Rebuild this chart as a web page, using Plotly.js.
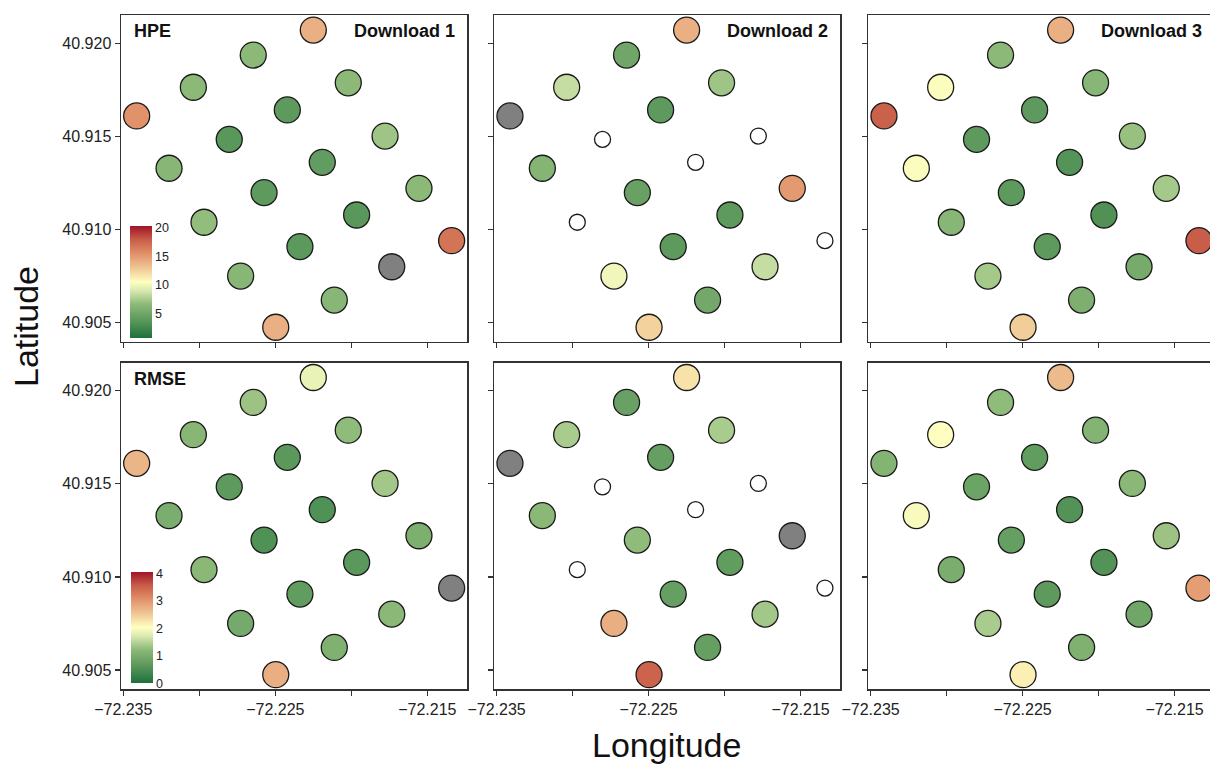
<!DOCTYPE html>
<html><head><meta charset="utf-8">
<script src="https://cdn.plot.ly/plotly-3.0.1.min.js"></script>
<style>html,body{margin:0;padding:0;overflow:hidden;background:#fff}</style>
</head><body><div id="chart" style="width:1216px;height:765px"></div>
<script>
// Station coordinates (same stations in every panel)
const stationLon = [-72.2225, -72.22645, -72.23039, -72.22020, -72.23412, -72.22421, -72.22803, -72.21778, -72.23199, -72.22191,
                    -72.22574, -72.21555, -72.22969, -72.21965, -72.21340, -72.22338, -72.21734, -72.22728, -72.22112, -72.22497];
const stationLat = [40.92071, 40.91937, 40.91764, 40.91788, 40.91610, 40.91642, 40.91484, 40.91502, 40.91329, 40.91361,
                    40.91198, 40.91221, 40.91039, 40.91078, 40.90940, 40.90908, 40.90800, 40.90750, 40.90621, 40.90475];

const downloads = ['Download 1', 'Download 2', 'Download 3'];
const metrics = ['HPE', 'RMSE'];

// HPE values (null = not available, drawn grey)
const hpeD1 = [14.1, 6.6, 6.6, 6.6, 15.5, 4.0, 3.7, 7.2, 6.4, 4.2, 4.0, 6.6, 6.8, 3.7, 16.9, 3.9, null, 6.4, 6.4, 14.1];
const hpeD2 = [14.1, 5.0, 8.4, 7.2, null, 4.0, null, null, 6.2, null, 4.6, 15.1, null, 4.0, null, 4.0, 8.4, 10.0, 5.2, 12.5];
const hpeD3 = [14.1, 6.6, 10.4, 6.4, 17.8, 4.0, 4.0, 7.0, 10.4, 3.5, 4.0, 7.4, 6.4, 3.3, 18.0, 4.0, 5.4, 7.4, 5.8, 12.7];

// RMSE values
const rmseD1 = [1.84, 1.32, 1.16, 1.24, 2.68, 0.64, 0.68, 1.36, 1.00, 0.52, 0.52, 1.04, 1.20, 0.64, null, 0.72, 1.20, 0.96, 1.08, 2.76];
const rmseD2 = [2.28, 0.80, 1.40, 1.40, null, 0.76, null, null, 1.20, null, 1.24, null, null, 0.72, null, 0.76, 1.36, 2.76, 0.76, 3.48];
const rmseD3 = [2.64, 1.24, 2.00, 1.12, 1.12, 0.72, 0.84, 1.20, 1.96, 0.56, 0.76, 1.32, 1.00, 0.56, 2.92, 0.68, 0.88, 1.40, 1.08, 2.16];

// Stations without a fix in Download 2 (1-based ids), drawn as small white circles
const noFixD2 = [7, 8, 10, 13, 15];

const xTickVals = [-72.235, -72.230, -72.225, -72.220, -72.215];
const xTickText = ['\u221272.235', '', '\u221272.225', '', '\u221272.215'];
const yTickVals = [40.905, 40.910, 40.915, 40.920];
const yTickText = ['40.905', '40.910', '40.915', '40.920'];
const hpeTicks = [5, 10, 15, 20];
const rmseTicks = [0, 1, 2, 3, 4];

const W = 1216, H = 765;
const FONT = 'Liberation Sans, Arial, Helvetica, sans-serif';
const colorscale = [[0,'rgb(30,112,60)'],[0.15,'rgb(88,150,90)'],[0.3,'rgb(140,185,120)'],[0.42,'rgb(215,232,175)'],
  [0.5,'rgb(255,255,192)'],[0.62,'rgb(240,200,150)'],[0.75,'rgb(226,146,106)'],[0.88,'rgb(200,92,72)'],[1,'rgb(160,20,40)']];

const panels = [hpeD1, hpeD2, hpeD3, rmseD1, rmseD2, rmseD3];
const noFix = [[], noFixD2, []];

// pixel geometry
const colLeft = [121, 494.3, 868.3];
const colW = 346;
const rowTop = [15.3, 362.7];
const rowH = 326.4;
const xRange = [-72.23515, -72.21239];
const yRange = [40.903974, 40.921504];

const traces = [];
const layout = {
  width: W, height: H, margin: {l: 0, r: 0, t: 0, b: 0},
  paper_bgcolor: '#fff', plot_bgcolor: '#fff', showlegend: false,
  font: {family: FONT, color: '#222'},
  coloraxis: {cmin: 0.7, cmax: 20.41, colorscale: colorscale,
    colorbar: {x: 130 / W, xanchor: 'left', y: 1 - 337.7 / H, yanchor: 'bottom', thickness: 22, len: 111.7, lenmode: 'pixels',
      xpad: 0, ypad: 0, outlinewidth: 0, tickvals: hpeTicks, ticks: '', tickfont: {size: 12.5, color: '#222', family: FONT}}},
  coloraxis2: {cmin: 0, cmax: 4.04, colorscale: colorscale,
    colorbar: {x: 131 / W, xanchor: 'left', y: 1 - 683.3 / H, yanchor: 'bottom', thickness: 22, len: 111, lenmode: 'pixels',
      xpad: 0, ypad: 0, outlinewidth: 0, tickvals: rmseTicks, ticks: '', tickfont: {size: 12.5, color: '#222', family: FONT}}},
  annotations: []
};

for (let k = 0; k < 6; k++) {
  const row = k < 3 ? 0 : 1, col = k % 3;
  const s = k === 0 ? '' : String(k + 1);
  const vals = panels[k];
  const nf = noFix[col];
  const mx = [], my = [], mv = [], gx = [], gy = [], wx = [], wy = [];
  vals.forEach((v, i) => {
    if (nf.includes(i + 1)) { wx.push(stationLon[i]); wy.push(stationLat[i]); }
    else if (v === null) { gx.push(stationLon[i]); gy.push(stationLat[i]); }
    else { mx.push(stationLon[i]); my.push(stationLat[i]); mv.push(v); }
  });
  const common = {type: 'scatter', mode: 'markers', xaxis: 'x' + s, yaxis: 'y' + s, cliponaxis: false, hoverinfo: 'skip'};
  traces.push(Object.assign({}, common, {x: mx, y: my,
    marker: {size: 26, color: mv, coloraxis: row === 0 ? 'coloraxis' : 'coloraxis2', line: {color: '#1a1a1a', width: 1.3}}}));
  if (gx.length) traces.push(Object.assign({}, common, {x: gx, y: gy,
    marker: {size: 26, color: '#808080', line: {color: '#1a1a1a', width: 1.3}}}));
  if (wx.length) traces.push(Object.assign({}, common, {x: wx, y: wy,
    marker: {size: 16, color: '#ffffff', line: {color: '#1a1a1a', width: 1.3}}}));

  const x0 = colLeft[col], y0 = rowTop[row];
  layout['xaxis' + s] = {
    domain: [x0 / W, (x0 + colW) / W], range: xRange, anchor: 'y' + s,
    tickvals: xTickVals, ticktext: xTickText, showticklabels: row === 1,
    tickfont: {size: 16, color: '#222', family: FONT},
    showline: true, mirror: true, linecolor: '#333', linewidth: 1.5,
    ticks: 'outside', ticklen: 5, tickcolor: '#333', tickwidth: 1.2,
    showgrid: false, zeroline: false, fixedrange: true
  };
  layout['yaxis' + s] = {
    domain: [1 - (y0 + rowH) / H, 1 - y0 / H], range: yRange, anchor: 'x' + s,
    tickvals: yTickVals, ticktext: yTickText, showticklabels: col === 0,
    tickfont: {size: 16, color: '#222', family: FONT},
    showline: true, mirror: true, linecolor: '#333', linewidth: 1.5,
    ticks: 'outside', ticklen: 5, tickcolor: '#333', tickwidth: 1.2,
    showgrid: false, zeroline: false, fixedrange: true
  };
  if (row === 0) {
    layout.annotations.push({xref: 'paper', yref: 'paper', x: (x0 + colW - 10) / W, y: 1 - 31 / H,
      xanchor: 'right', yanchor: 'middle', showarrow: false, text: '<b>' + downloads[col] + '</b>',
      font: {size: 18, color: '#111', family: FONT}});
  }
  if (col === 0) {
    layout.annotations.push({xref: 'paper', yref: 'paper', x: 132 / W, y: 1 - (y0 + 16) / H,
      xanchor: 'left', yanchor: 'middle', showarrow: false, text: '<b>' + metrics[row] + '</b>',
      font: {size: 18, color: '#111', family: FONT}});
  }
}

layout.annotations.push({xref: 'paper', yref: 'paper', x: 26 / W, y: 1 - 327 / H, textangle: -90,
  xanchor: 'center', yanchor: 'middle', showarrow: false, text: 'Latitude', font: {size: 34, color: '#111', family: FONT}});
layout.annotations.push({xref: 'paper', yref: 'paper', x: 666 / W, y: 1 - 745 / H,
  xanchor: 'center', yanchor: 'middle', showarrow: false, text: 'Longitude', font: {size: 34, color: '#111', family: FONT}});

Plotly.newPlot('chart', traces, layout, {staticPlot: true, displayModeBar: false});
</script>
</body></html>
